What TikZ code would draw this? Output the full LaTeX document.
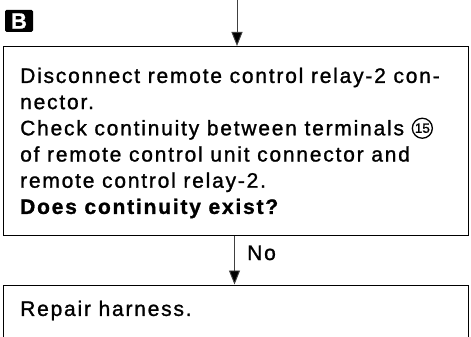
\documentclass[tikz,border=0pt]{standalone}
\usepackage{fontspec}
\setmainfont{Liberation Sans}[LetterSpace=8.5,FakeBold=1.2]
\usetikzlibrary{arrows.meta}
\tikzset{
  box/.style={draw=black, line width=1.3pt, fill=none},
  txt/.style={inner sep=0pt, align=left, anchor=north west,
    font=\fontsize{21}{26.2}\selectfont},
  flow/.style={draw=black!75, line width=0.9pt,
    -{Triangle[width=11pt,length=14pt,fill=black]}},
  lbl/.style={inner sep=0pt, anchor=base west, font=\fontsize{21}{26.2}\selectfont},
}
\newcommand{\circnum}[1]{\tikz[baseline={([yshift=-2.5pt]c.base)}]\node[circle,draw,line width=1.3pt,inner sep=0.3pt,minimum size=20pt,font=\fontsize{13.5}{13.5}\selectfont\addfontfeature{LetterSpace=0}] (c) {#1};}
\begin{document}
\begin{tikzpicture}[x=1pt,y=-1pt]
\useasboundingbox (0,0) rectangle (471,337);
\clip (0,0) rectangle (471,337);
% B label
\node[fill=black, rounded corners=1.5pt, minimum width=28pt, minimum height=22pt, inner sep=0pt,
  text=white, font=\fontsize{22}{22}\selectfont\bfseries\addfontfeature{LetterSpace=0}] (blabel) at (19,21) {B};
% box 1
\coordinate (b1nw) at (2.5,46);
\node[box, inner sep=0pt, minimum width=465pt, minimum height=188.5pt, anchor=north west] (b1) at (b1nw) {};
\node[txt] (t1) at (20,67.5) {Disconnect remote control relay-2 con-\\
nector.\\
Check continuity between terminals \circnum{15}\\
of remote control unit connector and\\
remote control relay-2.\\
\textbf{Does continuity exist?}};
% box 2
\node[box, inner sep=0pt, minimum width=465pt, minimum height=80pt, anchor=north west] (b2) at (2.5,284.5) {};
\node[txt] (t2) at (20,300.5) {Repair harness.};
% arrows
\coordinate (top) at (237,0);
\draw[flow] (top) -- (top |- b1.north);
\draw[flow] (234.5,0 |- b1.south) coordinate (s2) -- (s2 |- b2.north);
\node[lbl] (no) at (247,260) {No};
\end{tikzpicture}
\end{document}
